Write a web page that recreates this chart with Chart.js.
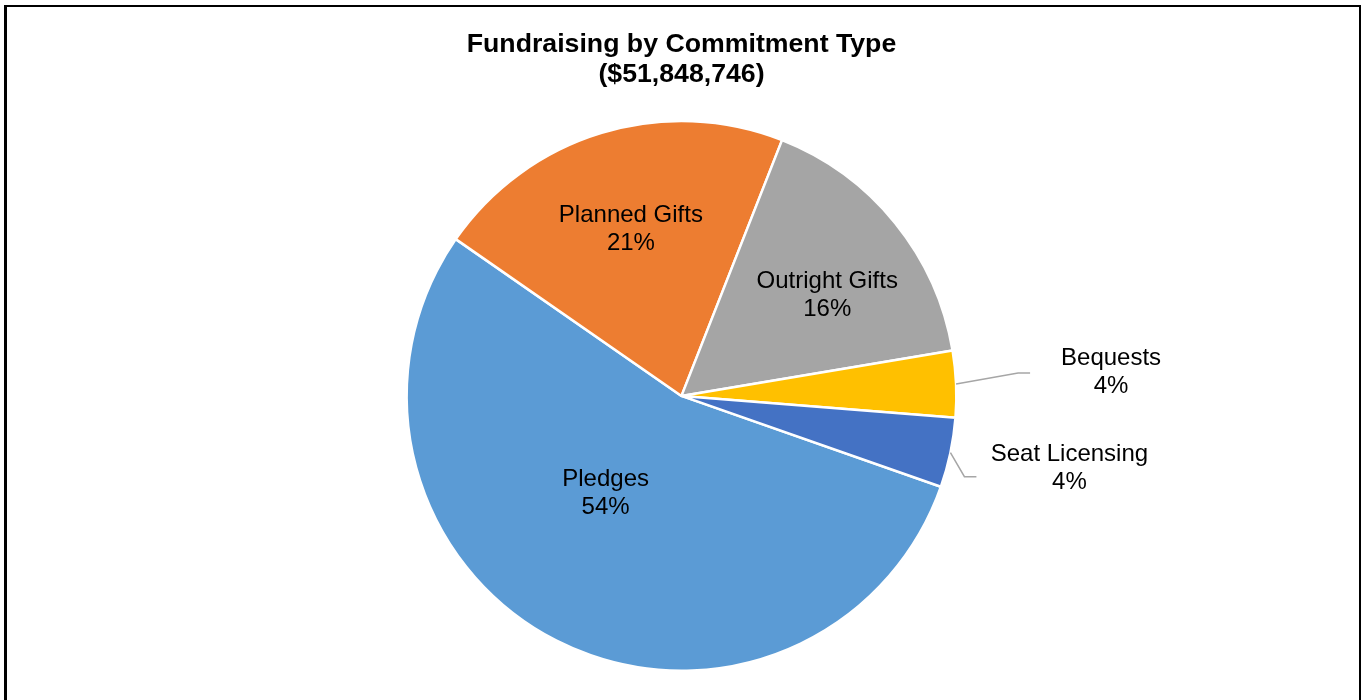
<!DOCTYPE html>
<html lang="en">
<head>
    <meta charset="UTF-8">
    <title>Fundraising by Commitment Type</title>
    <script src="https://cdn.jsdelivr.net/npm/chart.js"></script>
    <style>
        body {
            margin: 0;
            background-color: #ffffff;
            font-family: "Liberation Sans", Arial, sans-serif;
        }
        .chart-container {
            position: relative;
            width: 1363px;
            height: 700px;
        }
        .frame {
            position: absolute;
            left: 4px;
            top: 5px;
            width: 1352px;
            height: 720px;
            border-left: 3px solid #000;
            border-top: 2px solid #000;
            border-right: 2px solid #000;
            pointer-events: none;
        }
    </style>
</head>
<body>
    <div class="chart-container">
        <canvas id="pieChart"></canvas>
        <div class="frame"></div>
    </div>

    <script>
        // data (percent of total)
        const categories = ['Pledges', 'Planned Gifts', 'Outright Gifts', 'Bequests', 'Seat Licensing'];
        const shares = [54.3, 21.3, 16.4, 3.9, 4.1];
        const sliceColors = ['#5B9BD5', '#ED7D31', '#A5A5A5', '#FFC000', '#4472C4'];
        const titleLines = ['Fundraising by Commitment Type', '($51,848,746)'];

        const FONT = '"Liberation Sans", Arial, sans-serif';

        // where each label sits: inside (fraction of radius, angle nudge in degrees)
        // or outside with a leader line (offsets from the slice edge)
        const labelPlacement = [
            { inside: true, r: 0.45, da: 10.8 },
            { inside: true, r: 0.634, da: 0 },
            { inside: true, r: 0.645, da: 4.3 },
            { inside: false, elbow: [62, -11], end: [74, -11], text: [155, -12] },
            { inside: false, elbow: [14, 24], end: [26, 24], text: [119, 16] }
        ];

        const sliceLabels = {
            id: 'sliceLabels',
            afterDatasetsDraw(chart) {
                const ctx = chart.ctx;
                const meta = chart.getDatasetMeta(0);
                const values = chart.data.datasets[0].data;
                const total = values.reduce((a, b) => a + b, 0);
                ctx.save();
                ctx.font = '24px ' + FONT;
                ctx.fillStyle = '#000000';
                ctx.textAlign = 'center';
                ctx.textBaseline = 'middle';
                meta.data.forEach((arc, i) => {
                    const p = labelPlacement[i];
                    const mid = (arc.startAngle + arc.endAngle) / 2;
                    const pct = Math.round(values[i] / total * 100) + '%';
                    let cx, cy;
                    if (p.inside) {
                        const a = mid + p.da * Math.PI / 180;
                        const r = arc.outerRadius * p.r;
                        cx = arc.x + Math.cos(a) * r;
                        cy = arc.y + Math.sin(a) * r;
                    } else {
                        const ex = arc.x + Math.cos(mid) * arc.outerRadius;
                        const ey = arc.y + Math.sin(mid) * arc.outerRadius;
                        ctx.strokeStyle = '#A6A6A6';
                        ctx.lineWidth = 1.5;
                        ctx.beginPath();
                        ctx.moveTo(ex, ey);
                        ctx.lineTo(ex + p.elbow[0], ey + p.elbow[1]);
                        ctx.lineTo(ex + p.end[0], ey + p.end[1]);
                        ctx.stroke();
                        cx = ex + p.text[0];
                        cy = ey + p.text[1];
                    }
                    ctx.fillText(chart.data.labels[i], cx, cy - 14);
                    ctx.fillText(pct, cx, cy + 14);
                });
                ctx.restore();
            }
        };

        const ctx = document.getElementById('pieChart').getContext('2d');
        new Chart(ctx, {
            type: 'pie',
            data: {
                labels: categories,
                datasets: [{
                    data: shares,
                    backgroundColor: sliceColors,
                    borderColor: '#ffffff',
                    borderWidth: 2.5
                }]
            },
            options: {
                responsive: true,
                maintainAspectRatio: false,
                animation: false,
                rotation: 109.3,
                layout: { padding: { bottom: 28 } },
                plugins: {
                    legend: { display: false },
                    tooltip: { enabled: false },
                    title: {
                        display: true,
                        text: titleLines,
                        color: '#000000',
                        font: { family: FONT, size: 26.7, weight: 'bold', lineHeight: 1.12 },
                        padding: { top: 30, bottom: 30 }
                    }
                }
            },
            plugins: [sliceLabels]
        });
    </script>
</body>
</html>
